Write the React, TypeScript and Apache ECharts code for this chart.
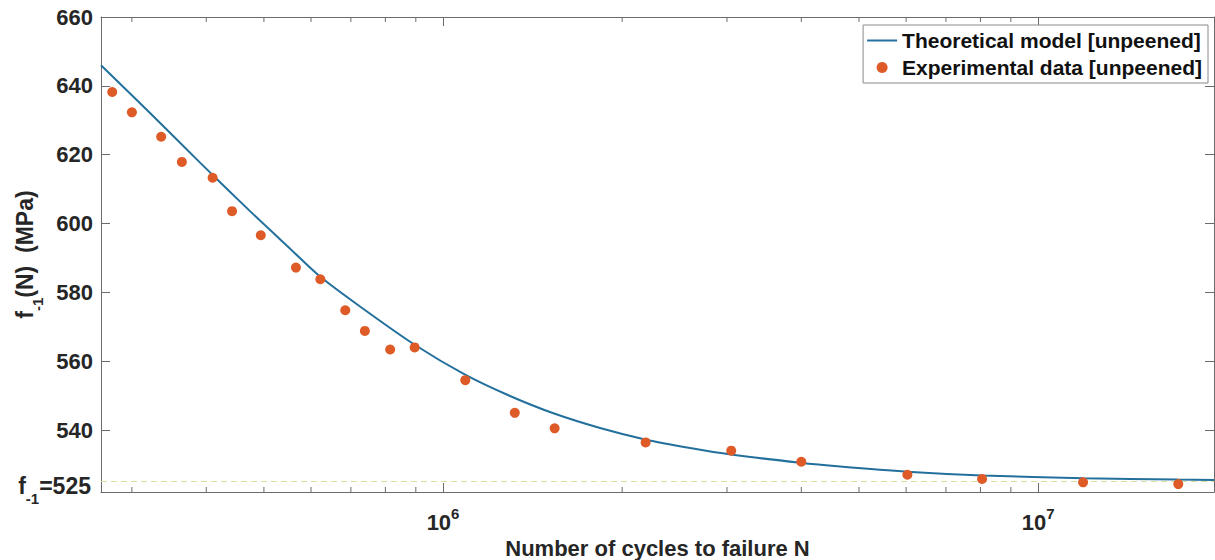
import React, { useEffect, useRef } from 'react';
import * as echarts from 'echarts';

// Axis extents
const X_MIN = 266200;
const X_MAX = 19750000;
const Y_MIN = 522;
const Y_MAX = 660;
const F_LIMIT = 525;

// Experimental data [unpeened]
const N_EXP = [278000, 300000, 336000, 364000, 410000, 442000, 494000, 566000, 622000, 685000, 739000, 815000, 896000, 1090000, 1320000, 1540000, 2190000, 3050000, 4000000, 6030000, 8050000, 11900000, 17200000];
const F_EXP = [638.2, 632.3, 625.2, 617.9, 613.3, 603.6, 596.6, 587.2, 583.8, 574.8, 568.8, 563.4, 564.0, 554.5, 545.0, 540.5, 536.4, 534.0, 530.8, 527.0, 525.8, 524.8, 524.3];

// Theoretical model [unpeened]
const N_MODEL = [266200, 321800, 390500, 473800, 553300, 621300, 725200, 897400, 1089000, 1296000, 1537000, 1836000, 2194000, 2601000, 3048000, 3981000, 4648000, 6025000, 8053000, 11900000, 17190000, 19750000];
const F_MODEL = [646.0, 632.1, 617.7, 603.6, 592.7, 584.6, 575.9, 564.7, 556.1, 549.9, 544.8, 540.6, 537.2, 534.8, 532.9, 530.5, 529.4, 527.9, 526.8, 526.0, 525.6, 525.5];

// Minor ticks of the log axis
const MINOR_TICKS = [300000, 400000, 500000, 600000, 700000, 800000, 900000, 2000000, 3000000, 4000000, 5000000, 6000000, 7000000, 8000000, 9000000];

const SERIES_MODEL = 'Theoretical model [unpeened]';
const SERIES_EXP = 'Experimental data [unpeened]';

const FONT = "'Liberation Sans', Arial, sans-serif";
const AX = '#6b6b6b';
const TXT = '#262626';

export default function App() {
  const ref = useRef<HTMLDivElement>(null);
  useEffect(() => {
    const chart = echarts.init(ref.current as HTMLDivElement, null, { renderer: 'svg' });
    const modelData = N_MODEL.map((n, i) => [n, F_MODEL[i]]);
    const expData = N_EXP.map((n, i) => [n, F_EXP[i]]);
    const minorData = MINOR_TICKS.map((n) => [n, Y_MIN]);

    const subRich = (size: number) => ({
      m: { fontFamily: FONT, fontWeight: 'bold', fontSize: size, color: TXT, lineHeight: size + 2, verticalAlign: 'top' },
      s: { fontFamily: FONT, fontWeight: 'bold', fontSize: 15, color: TXT, lineHeight: 16, padding: [size - 6, 0, 0, 0], verticalAlign: 'top' },
    });

    const option: any = {
      animation: false,
      backgroundColor: '#ffffff',
      grid: { left: 101, right: 1, top: 17, bottom: 68, containLabel: false, outerBoundsMode: 'none' },
      legend: {
        data: [
          { name: SERIES_MODEL, itemStyle: { opacity: 0 } },
          { name: SERIES_EXP },
        ],
        orient: 'vertical',
        right: 7,
        top: 25,
        itemWidth: 30,
        itemHeight: 11,
        itemGap: 6,
        padding: [5, 6, 5, 3],
        borderColor: '#8a8a8a',
        borderWidth: 1,
        backgroundColor: '#ffffff',
        textStyle: { fontFamily: FONT, fontWeight: 'bold', fontSize: 21, color: '#111111' },
      },
      xAxis: [
        {
          type: 'log',
          logBase: 10,
          min: X_MIN,
          max: X_MAX,
          position: 'bottom',
          axisLine: { show: true, lineStyle: { color: AX, width: 1 } },
          axisTick: { show: true, inside: true, length: 9, lineStyle: { color: AX } },
          splitLine: { show: false },
          axisLabel: {
            margin: 14,
            formatter: (v: number) => {
              const e = Math.log10(v);
              if (Math.abs(e - Math.round(e)) < 1e-6) return `{b|10}{p|${Math.round(e)}}`;
              return '';
            },
            rich: {
              b: { fontFamily: FONT, fontWeight: 'bold', fontSize: 22, color: TXT, lineHeight: 24, padding: [5, 0, 0, 0], verticalAlign: 'top' },
              p: { fontFamily: FONT, fontWeight: 'bold', fontSize: 15, color: TXT, lineHeight: 15, verticalAlign: 'top' },
            },
          },
          name: 'Number of cycles to failure N',
          nameLocation: 'middle',
          nameGap: 39,
          nameTextStyle: { fontFamily: FONT, fontWeight: 'bold', fontSize: 22, color: TXT, lineHeight: 22 },
        },
        {
          type: 'log',
          logBase: 10,
          min: X_MIN,
          max: X_MAX,
          position: 'top',
          axisLine: { show: true, lineStyle: { color: AX, width: 1 } },
          axisTick: { show: true, inside: true, length: 9, lineStyle: { color: AX } },
          axisLabel: { show: false },
          splitLine: { show: false },
        },
      ],
      yAxis: [
        {
          type: 'value',
          min: Y_MIN,
          max: Y_MAX,
          splitNumber: 7,
          position: 'left',
          axisLine: { show: true, lineStyle: { color: AX, width: 1 } },
          axisTick: { show: true, inside: true, length: 9, lineStyle: { color: AX } },
          splitLine: { show: false },
          axisLabel: {
            margin: 8,
            fontFamily: FONT,
            fontWeight: 'bold',
            fontSize: 22,
            color: TXT,
            formatter: (v: number) => (Math.abs(v % 20) < 1e-6 ? String(v) : ''),
          },
          name: '{m|f}{s|-1}{m|(N)  (MPa)}',
          nameLocation: 'middle',
          nameGap: 60,
          nameTextStyle: { rich: subRich(23) },
        },
        {
          type: 'value',
          min: Y_MIN,
          max: Y_MAX,
          splitNumber: 7,
          position: 'right',
          axisLine: { show: true, lineStyle: { color: AX, width: 1 } },
          axisTick: { show: true, inside: true, length: 9, lineStyle: { color: AX } },
          axisLabel: { show: false },
          splitLine: { show: false },
        },
      ],
      series: [
        {
          name: SERIES_MODEL,
          type: 'line',
          xAxisIndex: 0,
          yAxisIndex: 0,
          data: modelData,
          smooth: 0.25,
          symbol: 'none',
          showSymbol: false,
          lineStyle: { color: '#23709C', width: 2 },
          itemStyle: { color: '#23709C' },
          z: 4,
          silent: true,
        },
        {
          name: SERIES_EXP,
          type: 'scatter',
          xAxisIndex: 0,
          yAxisIndex: 0,
          data: expData,
          symbol: 'circle',
          symbolSize: 10,
          itemStyle: { color: '#DE5A27', opacity: 1 },
          z: 5,
          silent: true,
          markLine: {
            silent: true,
            symbol: ['none', 'none'],
            lineStyle: { color: '#D9DF9E', type: [6, 4], width: 1 },
            data: [{ yAxis: F_LIMIT }],
            label: {
              show: true,
              position: 'start',
              distance: 10,
              padding: [10, 0, 0, 0],
              formatter: '{m|f}{s|-1}{m|=525}',
              rich: subRich(23),
            },
            z: 2,
          },
        },
        {
          name: 'minorTicks',
          type: 'custom',
          xAxisIndex: 0,
          yAxisIndex: 0,
          data: minorData,
          silent: true,
          z: 1,
          renderItem: (params: any, api: any) => {
            const x = api.value(0);
            const pb = api.coord([x, Y_MIN]);
            const pt = api.coord([x, Y_MAX]);
            return {
              type: 'group',
              children: [
                { type: 'line', shape: { x1: pb[0], y1: pb[1], x2: pb[0], y2: pb[1] - 5 }, style: { stroke: AX, lineWidth: 1 } },
                { type: 'line', shape: { x1: pt[0], y1: pt[1], x2: pt[0], y2: pt[1] + 5 }, style: { stroke: AX, lineWidth: 1 } },
              ],
            };
          },
        },
      ],
    };
    chart.setOption(option);
    return () => chart.dispose();
  }, []);
  return (
    <div
      ref={ref}
      style={{ position: 'fixed', left: 0, top: 0, width: 1215, height: 560, background: '#ffffff' }}
    />
  );
}
